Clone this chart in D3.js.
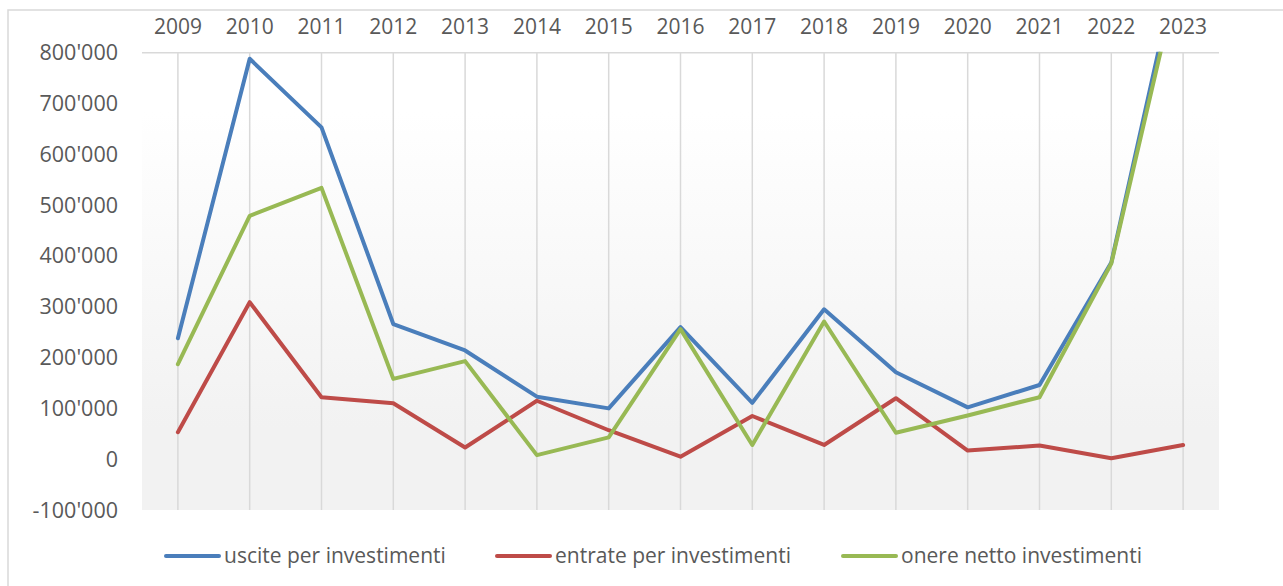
<!DOCTYPE html>
<html lang="en">
  <head>
    <meta charset="utf-8">
    <title>Investimenti 2009-2023</title>
  </head>
  <style>
    body { margin: 0; background: #ffffff; }
    text { font-family: 'Open Sans', 'DejaVu Sans', sans-serif; fill: #595959; }
  </style>
  <body>
    <div id="chart-area"></div>
    <script type="text/javascript" src="https://cdn.jsdelivr.net/npm/d3@7/dist/d3.min.js"></script>
    <script>
      // data
      const years = ['2009','2010','2011','2012','2013','2014','2015','2016','2017','2018','2019','2020','2021','2022','2023'];
      const uscite  = [238000, 788000, 653000, 266000, 214000, 123000, 100000, 260000, 111000, 295000, 171000, 102000, 146000, 387000, 1020000];
      const entrate = [53000, 309000, 122000, 110000, 23000, 115000, 57000, 5000, 85000, 28000, 120000, 17000, 27000, 2000, 28000];
      const onere   = [187000, 479000, 534000, 158000, 193000, 8000, 43000, 256000, 28000, 271000, 52000, 86000, 122000, 385000, 992000];
      const series_names = ['uscite per investimenti', 'entrate per investimenti', 'onere netto investimenti'];
      const y_ticks = [-100000, 0, 100000, 200000, 300000, 400000, 500000, 600000, 700000, 800000];

      const svg_width = 1283;
      const svg_height = 586;
      const plot = {left: 142, right: 1219, top: 52.7, bottom: 510};
      const colors = ['#4a7ebb', '#be4b48', '#98b954'];

      const x_scale = d3.scalePoint()
        .domain(years)
        .range([plot.left, plot.right])
        .padding(0.5);
      const y_scale = d3.scaleLinear()
        .domain([-100000, 800000])
        .range([plot.bottom, plot.top]);

      const svg = d3.select('#chart-area')
        .append('svg')
        .attr('width', svg_width)
        .attr('height', svg_height);

      //background gradient of the plot area
      const defs = svg.append('defs');
      const grad = defs.append('linearGradient')
        .attr('id', 'plot-bg')
        .attr('x1', 0).attr('y1', 0).attr('x2', 0).attr('y2', 1);
      grad.append('stop').attr('offset', '0').attr('stop-color', '#ffffff');
      grad.append('stop').attr('offset', '0.13').attr('stop-color', '#ffffff');
      grad.append('stop').attr('offset', '0.82').attr('stop-color', '#f2f2f2');
      grad.append('stop').attr('offset', '1').attr('stop-color', '#f2f2f2');
      defs.append('clipPath')
        .attr('id', 'plot-clip')
        .append('rect')
        .attr('x', plot.left - 5)
        .attr('y', plot.top - 1)
        .attr('width', plot.right - plot.left + 10)
        .attr('height', plot.bottom - plot.top + 10);

      //chart frame (only top and left edges are inside the picture)
      svg.append('path')
        .attr('d', `M8,${svg_height} L8,10 L${svg_width},10`)
        .attr('fill', 'none')
        .attr('stroke', '#d9d9d9')
        .attr('stroke-width', 1.5);

      svg.append('rect')
        .attr('x', plot.left)
        .attr('y', plot.top)
        .attr('width', plot.right - plot.left)
        .attr('height', plot.bottom - plot.top)
        .attr('fill', 'url(#plot-bg)');

      //vertical gridlines at every year
      svg.selectAll('.grid')
        .data(years)
        .enter()
        .append('line')
        .attr('class', 'grid')
        .attr('x1', d => x_scale(d))
        .attr('x2', d => x_scale(d))
        .attr('y1', plot.top)
        .attr('y2', plot.bottom)
        .attr('stroke', '#d9d9d9')
        .attr('stroke-width', 1.5);

      //category axis line sits on top
      svg.append('line')
        .attr('x1', plot.left)
        .attr('x2', plot.right)
        .attr('y1', y_scale(800000))
        .attr('y2', y_scale(800000))
        .attr('stroke', '#d9d9d9')
        .attr('stroke-width', 1.5);

      //year labels above
      svg.selectAll('.year')
        .data(years)
        .enter()
        .append('text')
        .attr('class', 'year')
        .attr('x', d => x_scale(d))
        .attr('y', 34)
        .attr('text-anchor', 'middle')
        .attr('font-size', '21px')
        .text(d => d);

      //value labels, apostrophe as thousands separator, plain hyphen for minus
      const fmt = d3.formatLocale({decimal: '.', thousands: "'", grouping: [3], currency: ['', ''], minus: '-'}).format(',');
      svg.selectAll('.ylab')
        .data(y_ticks)
        .enter()
        .append('text')
        .attr('class', 'ylab')
        .attr('x', 118)
        .attr('y', d => y_scale(d))
        .attr('dy', '0.35em')
        .attr('text-anchor', 'end')
        .attr('font-size', '21.5px')
        .text(d => fmt(d));

      //the three lines
      const all_series = [uscite, entrate, onere];
      const line = d3.line()
        .x((d, i) => x_scale(years[i]))
        .y(d => y_scale(d));
      svg.append('g')
        .attr('clip-path', 'url(#plot-clip)')
        .selectAll('path')
        .data(all_series)
        .enter()
        .append('path')
        .attr('d', d => line(d))
        .attr('fill', 'none')
        .attr('stroke', (d, i) => colors[i])
        .attr('stroke-width', 4)
        .attr('stroke-linejoin', 'round')
        .attr('stroke-linecap', 'round');

      //legend at the bottom
      const legend_x = [166, 497, 843];
      const legend = svg.selectAll('.legend')
        .data(series_names)
        .enter()
        .append('g')
        .attr('class', 'legend')
        .attr('transform', (d, i) => `translate(${legend_x[i]},556)`);
      legend.append('line')
        .attr('x1', 0)
        .attr('x2', 53)
        .attr('stroke', (d, i) => colors[i])
        .attr('stroke-width', 4)
        .attr('stroke-linecap', 'round');
      legend.append('text')
        .attr('x', 58)
        .attr('y', 7)
        .attr('font-size', '21px')
        .text(d => d);
    </script>
  </body>
</html>
